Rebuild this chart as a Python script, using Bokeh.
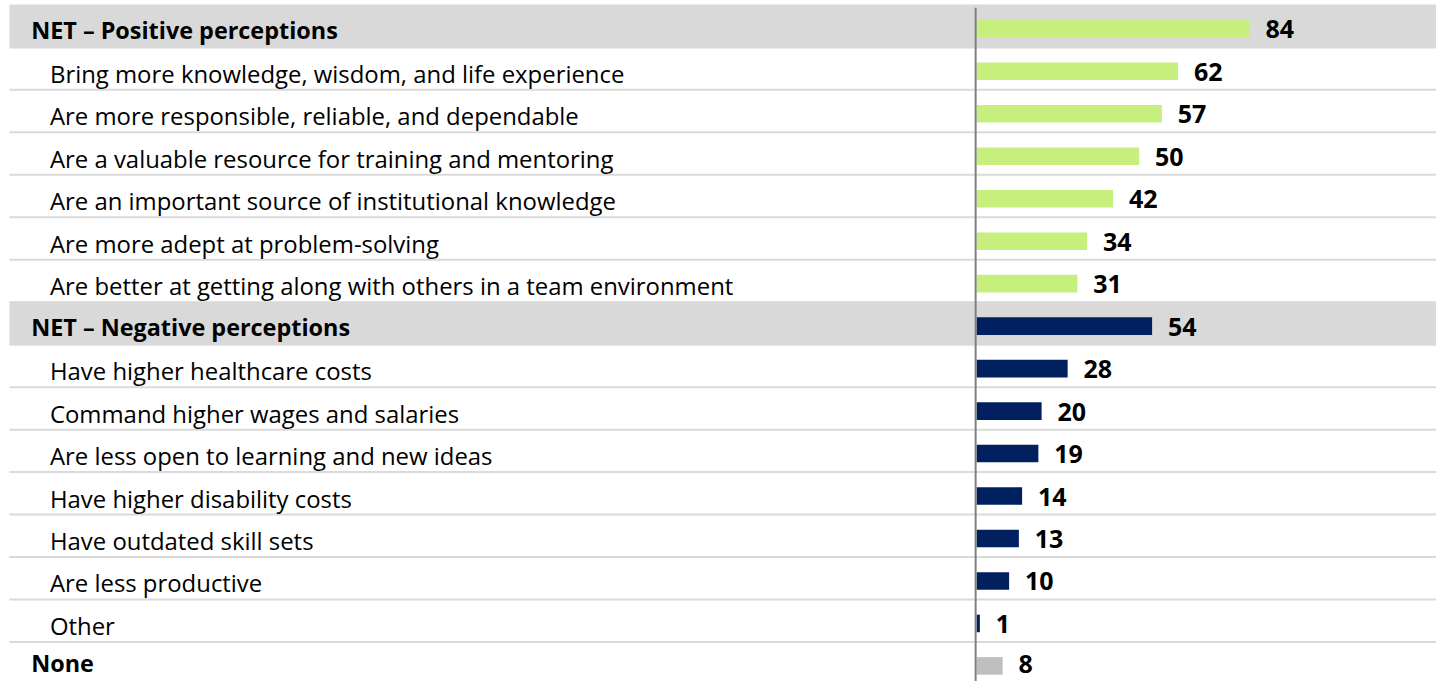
from bokeh.plotting import figure
from bokeh.models import ColumnDataSource, Range1d
from bokeh.core.properties import value
from bokeh.embed import file_html
from bokeh.resources import INLINE

# ---- data ----
categories = [
    "NET \u2013 Positive perceptions",
    "Bring more knowledge, wisdom, and life experience",
    "Are more responsible, reliable, and dependable",
    "Are a valuable resource for training and mentoring",
    "Are an important source of institutional knowledge",
    "Are more adept at problem-solving",
    "Are better at getting along with others in a team environment",
    "NET \u2013 Negative perceptions",
    "Have higher healthcare costs",
    "Command higher wages and salaries",
    "Are less open to learning and new ideas",
    "Have higher disability costs",
    "Have outdated skill sets",
    "Are less productive",
    "Other",
    "None",
]
values = [84, 62, 57, 50, 42, 34, 31, 54, 28, 20, 19, 14, 13, 10, 1, 8]
groups = ["pos"] * 7 + ["neg"] * 8 + ["none"]
is_header = [True, False, False, False, False, False, False,
             True, False, False, False, False, False, False, False, False]
is_bold = [True, False, False, False, False, False, False,
           True, False, False, False, False, False, False, False, True]

# ---- layout (reference space 1452x697 scaled to the figure) ----
W, H = 1436, 681
SX, SY = W / 1452.0, H / 697.0
ROW_PX = 43.47 * SY          # pixels per row
FIRST_PX = 29.0 * SY         # centre of first bar
PX_PER_UNIT = 3.286 * SX     # pixels per percentage point
ZERO_PX = 987.0 * SX         # x pixel of the value 0
FONT = "Open Sans"
group_colors = {"pos": "#C6EF7E", "neg": "#002060", "none": "#BFBFBF"}

x0 = -ZERO_PX / PX_PER_UNIT
x1 = (W - ZERO_PX) / PX_PER_UNIT
y_top = -FIRST_PX / ROW_PX
y_bot = (H - FIRST_PX) / ROW_PX
left_edge = x0 + 9.0 * SX / PX_PER_UNIT
last = len(categories) - 1

rows = list(range(len(categories)))
colors = [group_colors[g] for g in groups]

p = figure(width=W, height=H, output_backend="svg", toolbar_location=None,
           x_range=Range1d(x0, x1), y_range=Range1d(y_bot, y_top),
           min_border=0, min_border_left=0, min_border_right=0,
           min_border_top=0, min_border_bottom=0)
p.xaxis.visible = False
p.yaxis.visible = False
p.xgrid.visible = False
p.ygrid.visible = False
p.outline_line_color = None
p.background_fill_color = "white"
p.border_fill_color = "white"

# header bands
band_top = 25.0 / 43.47
band_bot = 19.0 / 43.47
hdr_rows = [r for r, h in zip(rows, is_header) if h]
p.quad(left=left_edge, right=x1,
       top=[r - band_top for r in hdr_rows],
       bottom=[r + band_bot for r in hdr_rows],
       fill_color="#D9D9D9", line_color=None)

# row separators
sep_src = ColumnDataSource(dict(y=[r + band_bot for r in rows[:-1]]))
p.segment(x0=left_edge, x1=x1, y0="y", y1="y", source=sep_src,
          line_color="#DADADA", line_width=2)

# bars
src = ColumnDataSource(dict(y=rows, v=values, c=colors,
                            lbl=[str(v) for v in values],
                            dy=[-1.5 if r == last else 0.5 for r in rows]))
p.hbar(y="y", left=0, right="v", height=18.0 / 43.47, fill_color="c",
       line_color=None, source=src)

# vertical axis line
axis_x = -1.0 / 3.286
axis_y0 = (7.5 - 29.0) / 43.47
p.segment(x0=[axis_x], x1=[axis_x], y0=[axis_y0], y1=[y_bot + 1],
          line_color="#808080", line_width=2)

# category labels
bold_rows = [r for r, b in zip(rows, is_bold) if b]
bold_src = ColumnDataSource(dict(
    y=bold_rows,
    t=[categories[r] for r in bold_rows],
    dy=[-2.5 if r == last else 1 for r in bold_rows]))
norm_src = ColumnDataSource(dict(
    y=[r for r, b in zip(rows, is_bold) if not b],
    t=[c for c, b in zip(categories, is_bold) if not b]))
p.text(x=x0, y="y", text="t", source=bold_src, x_offset=31 * SX, y_offset="dy",
       text_font=value(FONT), text_font_style="bold", text_font_size="23.4px",
       text_color="black", text_baseline="middle", text_align="left")
p.text(x=x0, y="y", text="t", source=norm_src, x_offset=50 * SX, y_offset=2,
       text_font=value(FONT), text_font_size="23.9px",
       text_color="black", text_baseline="middle", text_align="left")

# value labels
p.text(x="v", y="y", text="lbl", source=src, x_offset=16 * SX, y_offset="dy",
       text_font=value(FONT), text_font_style="bold", text_font_size="25px",
       text_color="black", text_baseline="middle", text_align="left")

open("out.html", "w").write(file_html(p, INLINE))
